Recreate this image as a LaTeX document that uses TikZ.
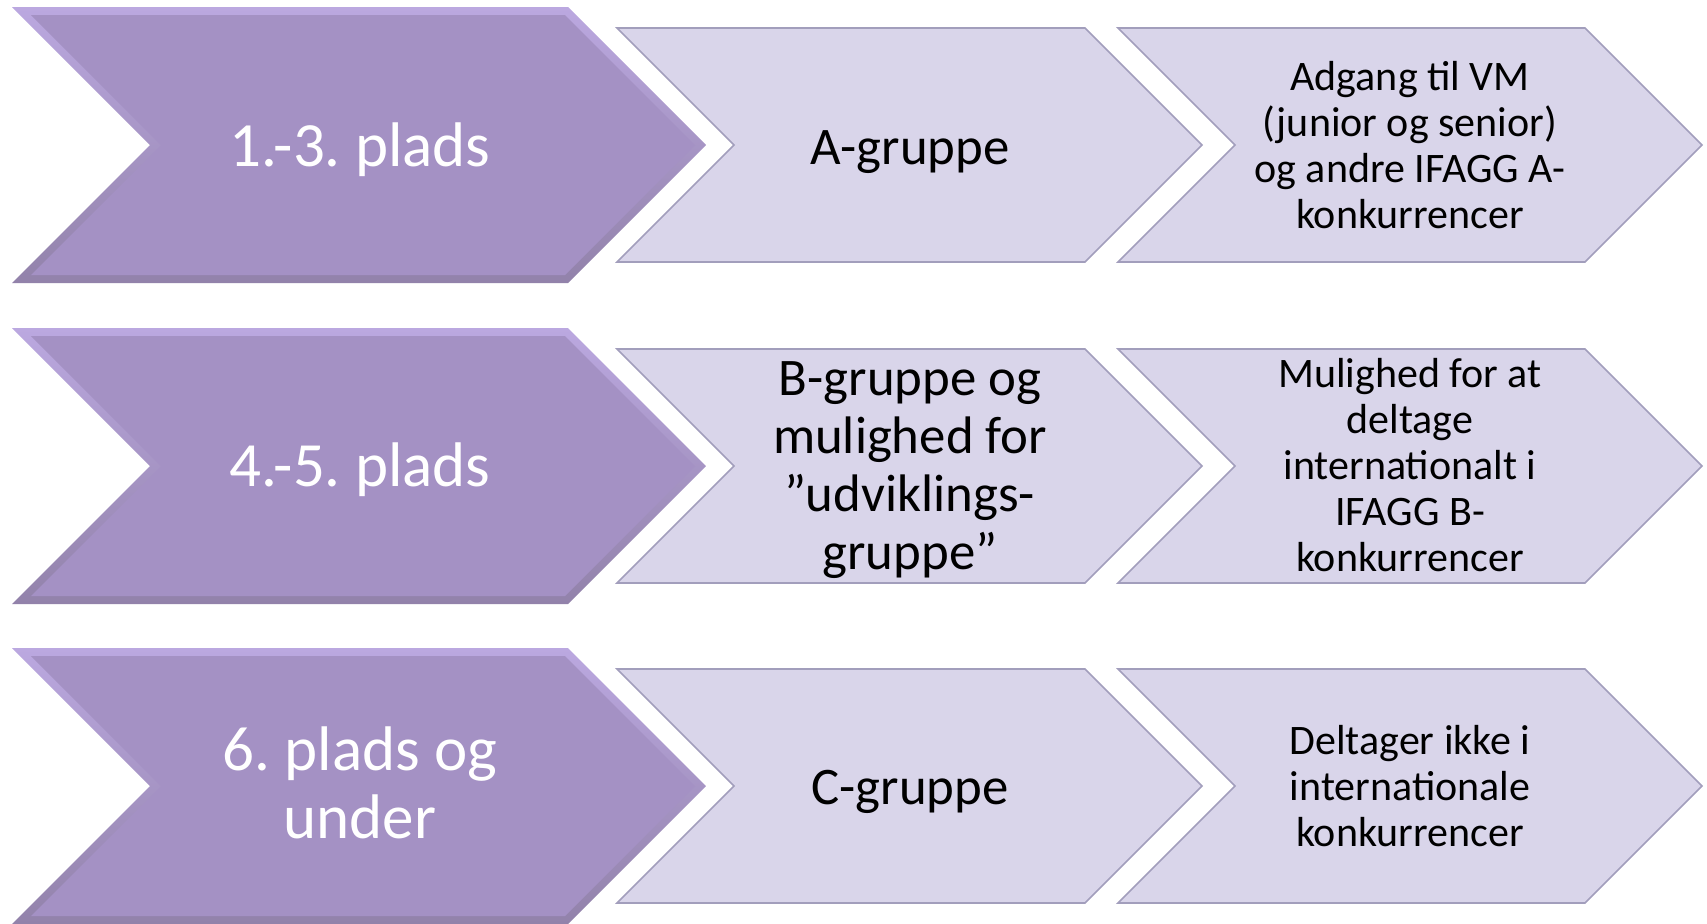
\documentclass[tikz,border=0pt]{standalone}
\usepackage{fontspec}
\setmainfont{Carlito}
\frenchspacing
\definecolor{rankfill}{HTML}{A491C4}
\definecolor{ranktop}{HTML}{BBA8E0}
\definecolor{rankbot}{HTML}{9282AA}
\definecolor{stepfill}{HTML}{D9D5EA}
\definecolor{stepline}{HTML}{A29EBC}
\begin{document}
\begin{tikzpicture}[x=0.5pt,y=-0.5pt,
    rank/.style={text=white,align=center,font=\fontsize{31.5}{34}\selectfont},
    group/.style={align=center,font=\fontsize{26.4}{29}\selectfont},
    note/.style={align=center,font=\fontsize{21}{23}\selectfont},
    chevron/.style={fill=stepfill,draw=stepline,line width=0.8pt,line join=miter}]
    \useasboundingbox (0,0) rectangle (1707,923);

    % Chevrons (bevelled rank + two plain steps) per row
    \foreach \c in {145,466,786} {
        \shade[top color=ranktop,bottom color=rankbot] (12,\c-138) -- (568,\c-138) -- (706,\c) -- (568,\c+138) -- (12,\c+138) -- (150,\c) -- cycle;
        \fill[rankfill] (31,\c-130) -- (565,\c-130) -- (695,\c) -- (565,\c+130) -- (31,\c+130) -- (161,\c) -- cycle;
        \draw[chevron] (617,\c-117) -- (1085,\c-117) -- (1202,\c) -- (1085,\c+117) -- (617,\c+117) -- (734,\c) -- cycle;
        \draw[chevron] (1118,\c-117) -- (1585,\c-117) -- (1702,\c) -- (1585,\c+117) -- (1118,\c+117) -- (1235,\c) -- cycle;
    }

    \node[rank] (rank1) at (360,150) {1.-3. plads};
    \node[group] (group1) at (910,152) {A-gruppe};
    \node[note] (note1) at (1410,145) {Adgang til VM\\(junior og senior)\\og andre IFAGG A-\\konkurrencer};

    \node[rank] (rank2) at (360,470) {4.-5. plads};
    \node[group] (group2) at (910,470) {B-gruppe og\\mulighed for\\”udviklings-\\gruppe”};
    \node[note] (note2) at (1410,465) {Mulighed for at\\deltage\\internationalt i\\IFAGG B-\\konkurrencer};

    \node[rank] (rank3) at (360,783) {6. plads og\\under};
    \node[group] (group3) at (910,792) {C-gruppe};
    \node[note] (note3) at (1410,786) {Deltager ikke i\\internationale\\konkurrencer};
\end{tikzpicture}
\end{document}
